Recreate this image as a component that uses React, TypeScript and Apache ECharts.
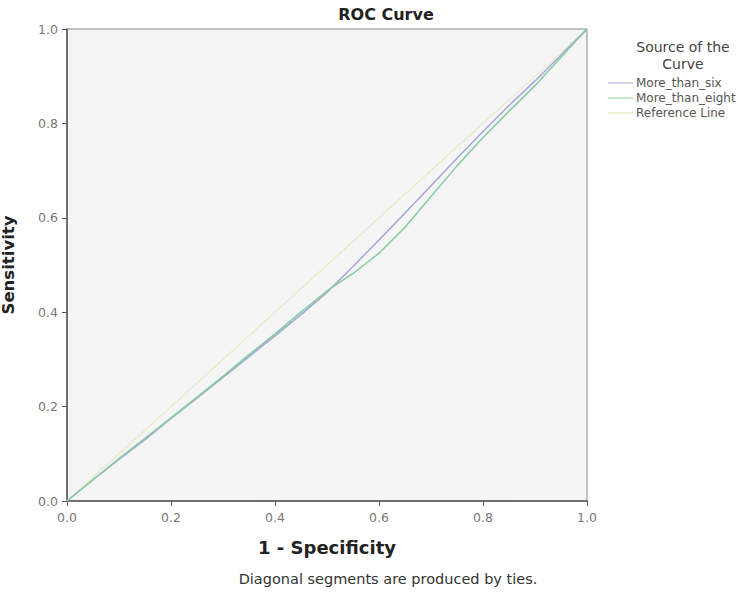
import React, { useEffect, useRef } from "react";
import * as echarts from "echarts";

const xValues = [0, 0.05, 0.1, 0.15, 0.2, 0.25, 0.3, 0.35, 0.4, 0.45, 0.5, 0.55, 0.6, 0.65, 0.7, 0.75, 0.8, 0.85, 0.9, 0.95, 1];
const moreThanSix = [0, 0.045, 0.088, 0.13, 0.175, 0.218, 0.262, 0.306, 0.35, 0.395, 0.442, 0.497, 0.553, 0.61, 0.668, 0.726, 0.783, 0.838, 0.89, 0.945, 1];
const moreThanEight = [0, 0.045, 0.09, 0.133, 0.176, 0.22, 0.264, 0.31, 0.354, 0.4, 0.445, 0.482, 0.525, 0.58, 0.645, 0.71, 0.77, 0.826, 0.88, 0.94, 1];
const referenceLine = [0, 1];
const referenceX = [0, 1];
const seriesNames = ["More_than_six", "More_than_eight", "Reference Line"];
const tickLabels = ["0.0", "0.2", "0.4", "0.6", "0.8", "1.0"];

const FONT = "DejaVu Sans";

export default function App() {
  const ref = useRef<HTMLDivElement>(null);
  useEffect(() => {
    document.body.style.margin = "0";
    const chart = echarts.init(ref.current!, undefined, { renderer: "svg" });
    const fmt = (v: number) => tickLabels[Math.round(v * 5)] ?? v.toFixed(1);
    chart.setOption({
      animation: false,
      backgroundColor: "#ffffff",
      title: [
        { text: "ROC Curve", left: 381, top: 1, textAlign: "center", textStyle: { fontFamily: FONT, fontSize: 16, fontWeight: "bold", color: "#222" } },
        { text: "Source of the\nCurve", left: 678, top: 33, textAlign: "center", textStyle: { fontFamily: FONT, fontSize: 14, fontWeight: "normal", color: "#444", lineHeight: 17 } },
        { text: "Diagonal segments are produced by ties.", left: 383, top: 566, textAlign: "center", textStyle: { fontFamily: FONT, fontSize: 14.5, fontWeight: "normal", color: "#333" } },
      ],
      legend: {
        orient: "vertical",
        left: 603,
        top: 72,
        itemWidth: 25,
        itemHeight: 1,
        itemGap: 3,
        icon: "rect",
        data: seriesNames,
        textStyle: { fontFamily: FONT, fontSize: 12, color: "#555", padding: [0, 0, 0, -2] },
      },
      grid: { left: 67, right: 169, top: 29, bottom: 96, outerBoundsMode: "none", containLabel: false, show: true, backgroundColor: "#f5f5f5", borderColor: "#8a8a8a", borderWidth: 1 },
      xAxis: {
        type: "value",
        min: 0,
        max: 1,
        interval: 0.2,
        name: "1 - Specificity",
        nameLocation: "middle",
        nameGap: 37,
        nameTextStyle: { fontFamily: FONT, fontSize: 18, fontWeight: "bold", color: "#222" },
        axisLine: { show: true, lineStyle: { color: "#555", width: 1.5 } },
        axisTick: { show: true, length: 5, lineStyle: { color: "#555" } },
        axisLabel: { fontFamily: FONT, fontSize: 12.5, color: "#777", margin: 10, formatter: fmt },
        splitLine: { show: false },
      },
      yAxis: {
        type: "value",
        min: 0,
        max: 1,
        interval: 0.2,
        name: "Sensitivity",
        nameLocation: "middle",
        nameGap: 50,
        nameTextStyle: { fontFamily: FONT, fontSize: 16.5, fontWeight: "bold", color: "#222" },
        axisLine: { show: true, lineStyle: { color: "#555", width: 1.5 } },
        axisTick: { show: true, length: 5, lineStyle: { color: "#555" } },
        axisLabel: { fontFamily: FONT, fontSize: 12.5, color: "#777", margin: 9, formatter: fmt },
        splitLine: { show: false },
      },
      series: [
        {
          name: seriesNames[2],
          type: "line",
          data: referenceX.map((x, i) => [x, referenceLine[i]]),
          showSymbol: false,
          lineStyle: { color: "#e8e8c4", width: 1.2 },
          itemStyle: { color: "#e0e0b8" },
          z: 1,
        },
        {
          name: seriesNames[0],
          type: "line",
          data: xValues.map((x, i) => [x, moreThanSix[i]]),
          showSymbol: false,
          lineStyle: { color: "#a4a4dc", width: 1.5 },
          itemStyle: { color: "#a4a4dc" },
          z: 2,
        },
        {
          name: seriesNames[1],
          type: "line",
          data: xValues.map((x, i) => [x, moreThanEight[i]]),
          showSymbol: false,
          lineStyle: { color: "#86cc9e", width: 1.5 },
          itemStyle: { color: "#86cc9e" },
          z: 3,
        },
      ],
    });
    return () => chart.dispose();
  }, []);
  return <div ref={ref} style={{ width: 756, height: 597 }} />;
}
